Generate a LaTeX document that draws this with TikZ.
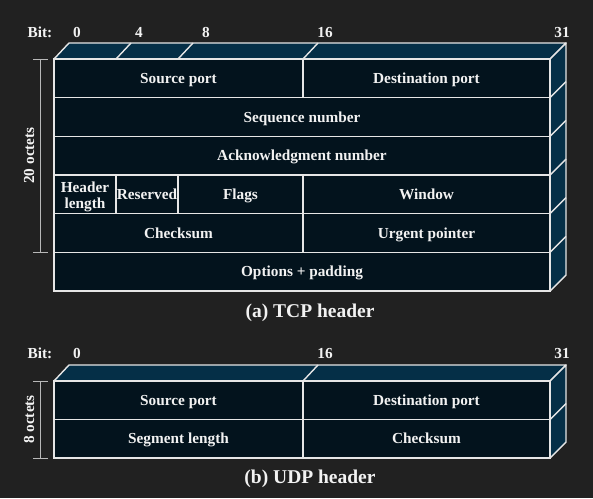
\documentclass[tikz,border=0pt]{standalone}
\usepackage{fontspec}
\setmainfont{Liberation Serif}
\usetikzlibrary{positioning}
\definecolor{bgcol}{HTML}{212121}
\definecolor{frontcol}{HTML}{03131D}
\definecolor{sidecol}{HTML}{052F47}
\definecolor{edgecol}{HTML}{E6E6E6}
\definecolor{txtcol}{HTML}{F2F2F2}
\definecolor{brackcol}{HTML}{B8B8B8}

\begin{document}
\begin{tikzpicture}[x=1pt, y=-1pt,
    sideface/.style={fill=sidecol, draw=edgecol, line width=1.4pt, line join=round},
    fieldbox/.style={fill=frontcol, draw=edgecol, line width=1.4pt},
    divline/.style={draw=edgecol, line width=1.4pt},
    lbl/.style={text=txtcol, font=\fontsize{15.3}{16}\selectfont\bfseries, inner sep=0pt, align=center, anchor=base},
    captxt/.style={text=txtcol, font=\fontsize{19.5}{22}\selectfont\bfseries, inner sep=0pt, anchor=base},
    octspan/.style={draw=brackcol, line width=0.9pt}]
  \useasboundingbox (0,0) rectangle (593,498);
  \fill[bgcol] (0,0) rectangle (593,498);

  % (a) TCP header
  \node[lbl] (tcpbit) at (40,37) {Bit:};
  \node[lbl] (tcpbzero) at (77,37) {0};
  \node[lbl] (tcpbfour) at (139,37) {4};
  \node[lbl] (tcpbeight) at (206,37) {8};
  \node[lbl] (tcpbsixteen) at (325,37) {16};
  \node[lbl] (tcpbend) at (562,37) {31};

  \draw[sideface] (54,59) -- (69,43) -- (566,43) -- (550,59) -- cycle;
  \draw[sideface] (550,59) -- (566,43) -- (566,275) -- (550,291) -- cycle;
  \foreach \x in {116,178,303}
    \draw[divline] (\x,59) -- ++(15,-16);
  \foreach \y in {97.7,136.3,175,213.7,252.3}
    \draw[divline] (550,\y) -- ++(16,-16);

  \draw[fieldbox] (54,59) rectangle (303,97.7);
  \draw[fieldbox] (303,59) rectangle (550,97.7);
  \draw[fieldbox] (54,97.7) rectangle (550,136.3);
  \draw[fieldbox] (54,136.3) rectangle (550,175);
  \draw[fieldbox] (54,175) rectangle (116,213.7);
  \draw[fieldbox] (116,175) rectangle (178,213.7);
  \draw[fieldbox] (178,175) rectangle (303,213.7);
  \draw[fieldbox] (303,175) rectangle (550,213.7);
  \draw[fieldbox] (54,213.7) rectangle (303,252.3);
  \draw[fieldbox] (303,213.7) rectangle (550,252.3);
  \draw[fieldbox] (54,252.3) rectangle (550,291);

  \node[lbl] (tcpsrc) at (178.5,83.3) {Source port};
  \node[lbl] (tcpdst) at (426.5,83.3) {Destination port};
  \node[lbl] (tcpseq) at (302,122) {Sequence number};
  \node[lbl] (tcpack) at (302,160.7) {Acknowledgment number};
  \node[lbl] (tcphlen) at (85,208) {Header\\length};
  \node[lbl] (tcpres) at (147,199.3) {Reserved};
  \node[lbl] (tcpflags) at (240.5,199.3) {Flags};
  \node[lbl] (tcpwin) at (426.5,199.3) {Window};
  \node[lbl] (tcpsum) at (178.5,238) {Checksum};
  \node[lbl] (tcpurg) at (426.5,238) {Urgent pointer};
  \node[lbl] (tcpopt) at (302,276.7) {Options + padding};

  \coordinate (tcptop) at (40,59);
  \coordinate (tcpbot) at (40,252.3);
  \draw[octspan] (tcptop) -- (tcpbot);
  \draw[octspan] ([xshift=-7pt]tcptop) -- ([xshift=8pt]tcptop);
  \draw[octspan] ([xshift=-7pt]tcpbot) -- ([xshift=8pt]tcpbot);
  \node[lbl, rotate=90] (tcpoct) at (34,155.5) {20 octets};

  \node[captxt] (tcpcap) at (310,317) {(a) TCP header};

  % (b) UDP header
  \node[lbl] (udpbit) at (40,358) {Bit:};
  \node[lbl] (udpbzero) at (77,358) {0};
  \node[lbl] (udpbsixteen) at (325,358) {16};
  \node[lbl] (udpbend) at (562,358) {31};

  \draw[sideface] (54,381) -- (69,365) -- (566,365) -- (550,381) -- cycle;
  \draw[sideface] (550,381) -- (566,365) -- (566,442) -- (550,458) -- cycle;
  \draw[divline] (303,381) -- ++(15,-16);
  \draw[divline] (550,419.5) -- ++(16,-16);

  \draw[fieldbox] (54,381) rectangle (303,419.5);
  \draw[fieldbox] (303,381) rectangle (550,419.5);
  \draw[fieldbox] (54,419.5) rectangle (303,458);
  \draw[fieldbox] (303,419.5) rectangle (550,458);

  \node[lbl] (udpsrc) at (178.5,405.3) {Source port};
  \node[lbl] (udpdst) at (426.5,405.3) {Destination port};
  \node[lbl] (udplen) at (178.5,443.8) {Segment length};
  \node[lbl] (udpsum) at (426.5,443.8) {Checksum};

  \coordinate (udptop) at (40,381);
  \coordinate (udpbot) at (40,458);
  \draw[octspan] (udptop) -- (udpbot);
  \draw[octspan] ([xshift=-7pt]udptop) -- ([xshift=8pt]udptop);
  \draw[octspan] ([xshift=-7pt]udpbot) -- ([xshift=8pt]udpbot);
  \node[lbl, rotate=90] (udpoct) at (34,419.5) {8 octets};

  \node[captxt] (udpcap) at (310,483) {(b) UDP header};
\end{tikzpicture}
\end{document}
